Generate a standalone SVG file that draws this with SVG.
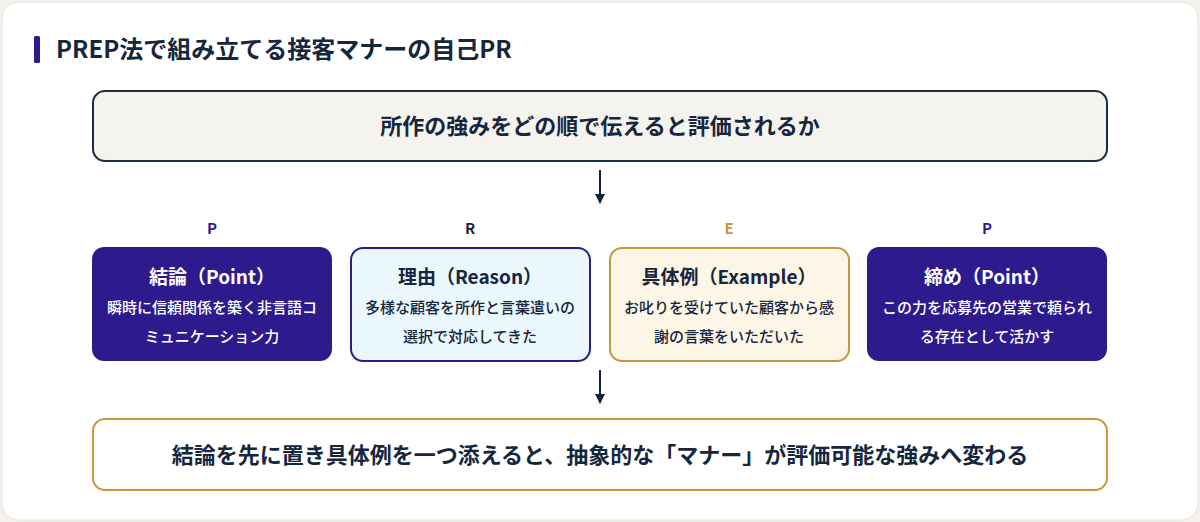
<svg xmlns="http://www.w3.org/2000/svg" width="1200" height="522" viewBox="0 0 1200 522">
<defs>
<style>
text{font-family:"Noto Sans CJK JP","Noto Sans",sans-serif;font-weight:700;text-anchor:middle}
.ttl{font-size:24px;fill:#16263d;text-anchor:start}
.big{font-size:22px;fill:#16263d}
.lab{font-size:15px}
.h{font-size:19px}
.b{font-size:15px;font-weight:500}
.w{fill:#ffffff}
.d{fill:#16263d}
.conn{stroke:#16263d;stroke-width:2;fill:none}
</style>
<marker id="ah" viewBox="0 0 10 10" refX="9" refY="5" markerWidth="10" markerHeight="10" markerUnits="userSpaceOnUse" orient="auto">
<path d="M0,0 L10,5 L0,10 z" fill="#16263d"/>
</marker>
</defs>
<rect x="0" y="0" width="1200" height="522" fill="#f3f1ea"/>
<rect x="2" y="2" width="1196" height="518" rx="16" fill="#ffffff" stroke="#e6e3d8" stroke-width="1"/>
<g id="title">
<rect x="34" y="36" width="6" height="27" rx="1.5" fill="#2d1b8e"/>
<text class="ttl" x="56" y="58">PREP法で組み立てる接客マナーの自己PR</text>
</g>
<g id="question">
<rect x="93" y="91" width="1014" height="70" rx="12" fill="#f4f3ee" stroke="#1b2d42" stroke-width="2"/>
<text class="big" x="600" y="134">所作の強みをどの順で伝えると評価されるか</text>
</g>
<g id="connectors">
<line class="conn" x1="600" y1="170" x2="600" y2="203" marker-end="url(#ah)"/>
<line class="conn" x1="600" y1="370" x2="600" y2="403" marker-end="url(#ah)"/>
</g>
<g id="point1">
<text class="lab" x="212" y="234" fill="#2d1b8e">P</text>
<rect x="92" y="247" width="240" height="114" rx="12" fill="#2d1b8e"/>
<text class="h w" x="212" y="284">結論（Point）</text>
<text class="b w" x="212" y="313">瞬時に信頼関係を築く非言語コ</text>
<text class="b w" x="212" y="342">ミュニケーション力</text>
</g>
<g id="reason">
<text class="lab" x="470" y="234" fill="#16263d">R</text>
<rect x="351" y="248" width="239" height="113" rx="12" fill="#eaf7fc" stroke="#2d1b8e" stroke-width="2"/>
<text class="h d" x="470" y="284">理由（Reason）</text>
<text class="b d" x="470" y="313">多様な顧客を所作と言葉遣いの</text>
<text class="b d" x="470" y="342">選択で対応してきた</text>
</g>
<g id="example">
<text class="lab" x="729" y="234" fill="#c8973a">E</text>
<rect x="610" y="248" width="239" height="113" rx="12" fill="#fdf5e6" stroke="#c8973a" stroke-width="2"/>
<text class="h d" x="729" y="284">具体例（Example）</text>
<text class="b d" x="729" y="313">お叱りを受けていた顧客から感</text>
<text class="b d" x="729" y="342">謝の言葉をいただいた</text>
</g>
<g id="point2">
<text class="lab" x="987" y="234" fill="#2d1b8e">P</text>
<rect x="867" y="247" width="240" height="114" rx="12" fill="#2d1b8e"/>
<text class="h w" x="987" y="284">締め（Point）</text>
<text class="b w" x="987" y="313">この力を応募先の営業で頼られ</text>
<text class="b w" x="987" y="342">る存在として活かす</text>
</g>
<g id="conclusion">
<rect x="93" y="419" width="1014" height="71" rx="12" fill="#ffffff" stroke="#c8973a" stroke-width="2"/>
<text class="big" x="600" y="463">結論を先に置き具体例を一つ添えると、抽象的な「マナー」が評価可能な強みへ変わる</text>
</g>
</svg>
